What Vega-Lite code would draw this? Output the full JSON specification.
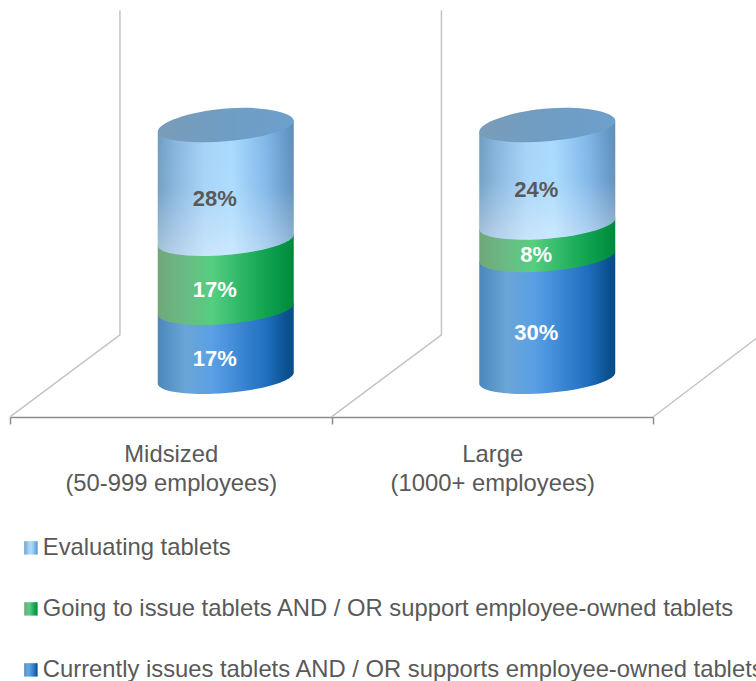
{
"$schema":"https://vega.github.io/schema/vega-lite/v6.json",
"width":756,"height":417,
"autosize":{"type":"none"},
"padding":{"left":0,"top":0,"right":0,"bottom":264},
"background":"white",
"config":{"view":{"stroke":null},"font":"Liberation Sans"},
"datasets":{
"walls":[
{"wall":"a","xw":0,"yw":-9.6},{"wall":"a","xw":0.342,"yw":10.6},{"wall":"a","xw":0.342,"yw":90.6},
{"wall":"b","xw":1,"yw":-9.6},{"wall":"b","xw":1.342,"yw":10.6},{"wall":"b","xw":1.342,"yw":90.6},
{"wall":"c","xw":2,"yw":-9.6},{"wall":"c","xw":2.342,"yw":11},{"wall":"c","xw":2.342,"yw":90.6}
],
"shares":[
{"category":"Midsized\n(50-999 employees)","series":"Currently issues tablets AND / OR supports employee-owned tablets","value":17,"stackOrder":1},
{"category":"Midsized\n(50-999 employees)","series":"Going to issue tablets AND / OR support employee-owned tablets","value":17,"stackOrder":2},
{"category":"Midsized\n(50-999 employees)","series":"Evaluating tablets","value":28,"stackOrder":3},
{"category":"Large\n(1000+ employees)","series":"Currently issues tablets AND / OR supports employee-owned tablets","value":30,"stackOrder":1},
{"category":"Large\n(1000+ employees)","series":"Going to issue tablets AND / OR support employee-owned tablets","value":8,"stackOrder":2},
{"category":"Large\n(1000+ employees)","series":"Evaluating tablets","value":24,"stackOrder":3}
]},
"resolve":{"scale":{"x":"independent"}},
"layer":[
{"data":{"name":"walls"},
 "mark":{"type":"line","color":"#C4C4C4","strokeWidth":1.5,"clip":false},
 "encoding":{
  "x":{"field":"xw","type":"quantitative","axis":null,"scale":{"domain":[-0.0311,2.3204],"range":[0,756],"nice":false,"zero":false}},
  "y":{"field":"yw","type":"quantitative","axis":null,"scale":{"domain":[-9.606,93.103],"nice":false,"zero":false}},
  "detail":{"field":"wall"},
  "order":{"field":"yw"}
 }},
{"data":{"name":"shares"},
 "transform":[{"stack":"value","groupby":["category"],"sort":[{"field":"stackOrder","order":"ascending"}],"as":["y0","y1"]},{"calculate":"(datum.y0+datum.y1)/2","as":"ymid"},{"calculate":"datum.value+'%'","as":"pct"}],
 "encoding":{
   "x":{"field":"category","type":"nominal","sort":null,"title":null,
     "scale":{"type":"band","domain":["Midsized\n(50-999 employees)","Large\n(1000+ employees)"],"range":[10,653],"paddingInner":0,"paddingOuter":0},
     "axis":{"title":null,"labelExpr":"split(datum.label,'\\n')","labelAngle":0,"labelFontSize":23.8,"labelFont":"Liberation Sans","labelColor":"#595959","labelLineHeight":29,"labelPadding":18,"tickBand":"extent","tickSize":7,"tickColor":"#8C8C8C","tickWidth":1.5,"domainColor":"#8C8C8C","domainWidth":1.5,"labelLimit":400}}
 },
 "layer":[
 {"mark":{"type":"point","filled":true,"opacity":1,"xOffset":55,"strokeWidth":0,"clip":false},
  "encoding":{
   "y":{"field":"y0","type":"quantitative","axis":null,"scale":{"domain":[-9.606,93.103],"nice":false,"zero":false}},
   "size":{"value":18496},
   "shape":{"field":"value","type":"nominal","legend":null,"scale":{"domain":[8,17,24,28,30],"range":[
     "M-1,-0.3966L1,-0.5586L1,-0.081C1,0.0405 0.5523,0.1753 0,0.22C-0.5523,0.2647 -1,0.2025 -1,0.081Z",
     "M-1,-0.934L1,-1.096L1,-0.081C1,0.0405 0.5523,0.1753 0,0.22C-0.5523,0.2647 -1,0.2025 -1,0.081Z",
     "M-1,-1.352L1,-1.514L1,-0.081C1,0.0405 0.5523,0.1753 0,0.22C-0.5523,0.2647 -1,0.2025 -1,0.081Z",
     "M-1,-1.591L1,-1.753L1,-0.081C1,0.0405 0.5523,0.1753 0,0.22C-0.5523,0.2647 -1,0.2025 -1,0.081Z",
     "M-1,-1.71L1,-1.872L1,-0.081C1,0.0405 0.5523,0.1753 0,0.22C-0.5523,0.2647 -1,0.2025 -1,0.081Z"
   ]}},
   "fill":{"field":"series","type":"nominal","sort":null,
     "scale":{"domain":["Evaluating tablets","Going to issue tablets AND / OR support employee-owned tablets","Currently issues tablets AND / OR supports employee-owned tablets"],
      "range":[
       {"expr":"{gradient:'linear',x1:0,y1:0,x2:1,y2:0,stops:[{offset:0,color:'#6E9CC0'},{offset:0.12,color:'#84B3DC'},{offset:0.35,color:'#A6D3F8'},{offset:0.55,color:'#A8DAFE'},{offset:0.8,color:'#7FB6E8'},{offset:0.95,color:'#6397C6'},{offset:1,color:'#5F8DB8'}]}"},
       {"expr":"{gradient:'linear',x1:0,y1:0,x2:1,y2:0,stops:[{offset:0,color:'#6FA878'},{offset:0.2,color:'#6ABB84'},{offset:0.4,color:'#56CE80'},{offset:0.6,color:'#30B868'},{offset:0.8,color:'#0FA350'},{offset:1,color:'#00893C'}]}"},
       {"expr":"{gradient:'linear',x1:0,y1:0,x2:1,y2:0,stops:[{offset:0,color:'#4B87BB'},{offset:0.2,color:'#6AA5D6'},{offset:0.4,color:'#5AA0E6'},{offset:0.6,color:'#3D87D4'},{offset:0.8,color:'#1F6FBF'},{offset:0.95,color:'#0B508F'},{offset:1,color:'#0A4C88'}]}"}
      ]},
     "legend":{"orient":"none","legendX":19,"legendY":536,"title":null,"symbolType":"square","symbolSize":180,"symbolStrokeWidth":0,"labelFont":"Liberation Sans","labelFontSize":23.8,"labelColor":"#595959","labelLimit":1200,"labelOffset":0,"rowPadding":36,"direction":"vertical"}}
  }},
 {"transform":[{"filter":"datum.stackOrder==3"}],
  "mark":{"type":"point","filled":true,"opacity":1,"xOffset":55,"strokeWidth":0,"clip":false,
    "fill":{"gradient":"linear","x1":0,"y1":0,"x2":0,"y2":1,"stops":[{"offset":0,"color":"rgba(255,255,255,0)"},{"offset":0.5,"color":"rgba(255,255,255,0.05)"},{"offset":1,"color":"rgba(255,255,255,0.4)"}]}},
  "encoding":{
   "y":{"field":"y0","type":"quantitative","axis":null,"scale":{"domain":[-9.606,93.103],"nice":false,"zero":false}},
   "size":{"value":18496},
   "shape":{"field":"value","type":"nominal","legend":null,"scale":{"domain":[8,17,24,28,30],"range":[
     "M-1,-0.3966L1,-0.5586L1,-0.081C1,0.0405 0.5523,0.1753 0,0.22C-0.5523,0.2647 -1,0.2025 -1,0.081Z",
     "M-1,-0.934L1,-1.096L1,-0.081C1,0.0405 0.5523,0.1753 0,0.22C-0.5523,0.2647 -1,0.2025 -1,0.081Z",
     "M-1,-1.352L1,-1.514L1,-0.081C1,0.0405 0.5523,0.1753 0,0.22C-0.5523,0.2647 -1,0.2025 -1,0.081Z",
     "M-1,-1.591L1,-1.753L1,-0.081C1,0.0405 0.5523,0.1753 0,0.22C-0.5523,0.2647 -1,0.2025 -1,0.081Z",
     "M-1,-1.71L1,-1.872L1,-0.081C1,0.0405 0.5523,0.1753 0,0.22C-0.5523,0.2647 -1,0.2025 -1,0.081Z"
   ]}}
  }},
 {"transform":[{"filter":"datum.stackOrder==3"}],
  "mark":{"type":"point","filled":true,"opacity":1,"xOffset":55,"strokeWidth":0,"clip":false,
    "shape":"M-1,0.081C-1,-0.05 -0.5523,-0.215 0,-0.26C0.5523,-0.305 1,-0.2025 1,-0.081C1,0.0405 0.5523,0.1753 0,0.22C-0.5523,0.2647 -1,0.2025 -1,0.081Z",
    "fill":{"gradient":"linear","x1":0,"y1":0,"x2":1,"y2":0,"stops":[{"offset":0,"color":"#7A9CB8"},{"offset":0.5,"color":"#6F9DC4"},{"offset":1,"color":"#6DA0CC"}]}},
  "encoding":{
   "y":{"field":"y1","type":"quantitative","axis":null,"scale":{"domain":[-9.606,93.103],"nice":false,"zero":false}},
   "size":{"value":18496}
  }},
 {"mark":{"type":"text","font":"Liberation Sans","fontWeight":"bold","fontSize":22,"dx":44,"dy":15.5,"baseline":"middle","align":"center"},
  "encoding":{
   "y":{"field":"ymid","type":"quantitative","axis":null,"scale":{"domain":[-9.606,93.103],"nice":false,"zero":false}},
   "text":{"field":"pct","type":"nominal"},
   "color":{"condition":{"test":"datum.stackOrder==3","value":"#595959"},"value":"#FFFFFF"}
  }}
 ]}
]
}
